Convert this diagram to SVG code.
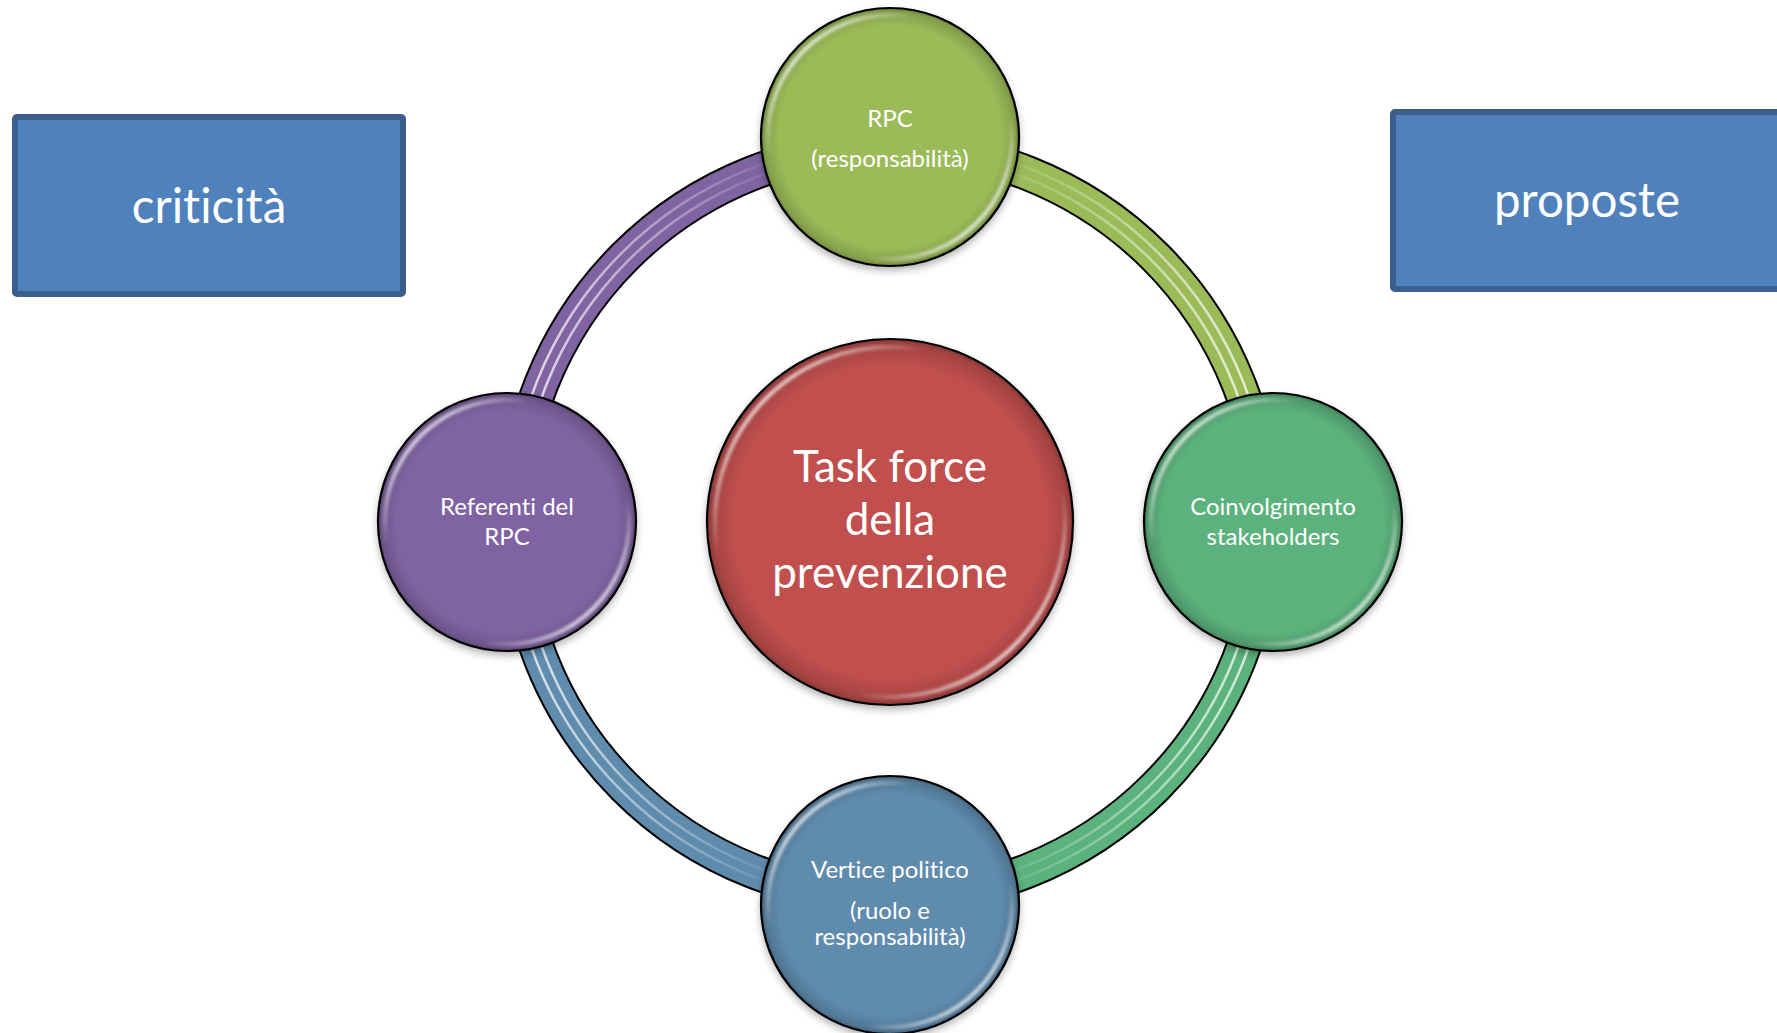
<svg xmlns="http://www.w3.org/2000/svg" width="1777" height="1033" viewBox="0 0 1777 1033">
<defs>
<style>
.lbl{font-family:Lato,"Open Sans","DejaVu Sans",sans-serif;fill:#fff;text-anchor:middle;font-variant-ligatures:none;font-feature-settings:"liga" 0}
.sm{font-size:24px}
.big{font-size:44px}
.bx{font-size:47.5px}
.box{fill:#4F81BD;stroke:#3A5F8D;stroke-width:6}
.edge{fill:none;stroke:#000;stroke-width:2.2}
.tube{fill:none;stroke:#000;stroke-width:36}
.band{fill:none;stroke-width:32}
.stripe{fill:none;stroke-width:2.5}
.hl{fill:none;stroke:url(#hl);stroke-width:4;filter:url(#soft)}
.vig{fill:url(#vig)}
</style>
<filter id="shadow" x="-20%" y="-20%" width="140%" height="150%">
<feGaussianBlur in="SourceAlpha" stdDeviation="4"/>
<feOffset dy="4"/>
<feComponentTransfer><feFuncA type="linear" slope="0.35"/></feComponentTransfer>
<feMerge><feMergeNode/><feMergeNode in="SourceGraphic"/></feMerge>
</filter>
<filter id="soft" x="-10%" y="-10%" width="120%" height="120%"><feGaussianBlur stdDeviation="1.5"/></filter>
<linearGradient id="hl" x1="0" y1="0" x2="1" y2="1">
<stop offset="0.08" stop-color="#fff" stop-opacity="1"/>
<stop offset="0.3" stop-color="#fff" stop-opacity="0"/>
<stop offset="0.7" stop-color="#fff" stop-opacity="0"/>
<stop offset="0.92" stop-color="#fff" stop-opacity="1"/>
</linearGradient>
<radialGradient id="vig" cx="0.5" cy="0.5" r="0.5">
<stop offset="0.86" stop-color="#000" stop-opacity="0"/>
<stop offset="0.97" stop-color="#000" stop-opacity="0.15"/>
<stop offset="1" stop-color="#000" stop-opacity="0.3"/>
</radialGradient>
<linearGradient id="sL" gradientUnits="userSpaceOnUse" x1="500" y1="0" x2="790" y2="0">
<stop offset="0" stop-color="#fff" stop-opacity="0.85"/>
<stop offset="1" stop-color="#fff" stop-opacity="0"/>
</linearGradient>
<linearGradient id="sR" gradientUnits="userSpaceOnUse" x1="1280" y1="0" x2="990" y2="0">
<stop offset="0" stop-color="#fff" stop-opacity="0.85"/>
<stop offset="1" stop-color="#fff" stop-opacity="0"/>
</linearGradient>
</defs>
<rect width="1777" height="1033" fill="#fff"/>

<g id="connectors">
<g id="arc-purple">
<path class="tube" d="M 515 522 A 375 375 0 0 1 890 147"/>
<path class="band" stroke="#8064A2" d="M 515 522 A 375 375 0 0 1 890 147"/>
<path class="stripe" stroke="url(#sL)" d="M 520 522 A 370 370 0 0 1 890 152"/>
<path class="stripe" stroke="url(#sL)" d="M 510 522 A 380 380 0 0 1 890 142"/>
</g>
<g id="arc-olive">
<path class="tube" d="M 890 147 A 375 375 0 0 1 1265 522"/>
<path class="band" stroke="#9BBB59" d="M 890 147 A 375 375 0 0 1 1265 522"/>
<path class="stripe" stroke="url(#sR)" d="M 890 152 A 370 370 0 0 1 1260 522"/>
<path class="stripe" stroke="url(#sR)" d="M 890 142 A 380 380 0 0 1 1270 522"/>
</g>
<g id="arc-green">
<path class="tube" d="M 1265 522 A 375 375 0 0 1 890 897"/>
<path class="band" stroke="#5BB27C" d="M 1265 522 A 375 375 0 0 1 890 897"/>
<path class="stripe" stroke="url(#sR)" d="M 1260 522 A 370 370 0 0 1 890 892"/>
<path class="stripe" stroke="url(#sR)" d="M 1270 522 A 380 380 0 0 1 890 902"/>
</g>
<g id="arc-blue">
<path class="tube" d="M 890 897 A 375 375 0 0 1 515 522"/>
<path class="band" stroke="#5F8BAD" d="M 890 897 A 375 375 0 0 1 515 522"/>
<path class="stripe" stroke="url(#sL)" d="M 890 892 A 370 370 0 0 1 520 522"/>
<path class="stripe" stroke="url(#sL)" d="M 890 902 A 380 380 0 0 1 510 522"/>
</g>
</g>

<g id="box-criticita">
<rect class="box" x="15" y="117" width="388" height="177" rx="2"/>
<text class="lbl bx" x="209" y="223">criticità</text>
</g>
<g id="box-proposte">
<rect class="box" x="1393" y="112" width="392" height="177" rx="2"/>
<text class="lbl bx" x="1587" y="217">proposte</text>
</g>

<g id="node-center">
<circle cx="890" cy="522" r="183" fill="#C0504D" filter="url(#shadow)"/>
<circle class="vig" cx="890" cy="522" r="183"/>
<circle class="hl" cx="890" cy="522" r="175"/>
<circle class="edge" cx="890" cy="522" r="183"/>
<text class="lbl big" x="890" y="482">Task force</text>
<text class="lbl big" x="890" y="535">della</text>
<text class="lbl big" x="890" y="588">prevenzione</text>
</g>

<g id="node-top">
<circle cx="890" cy="137" r="129" fill="#9BBB59" filter="url(#shadow)"/>
<circle class="vig" cx="890" cy="137" r="129"/>
<circle class="hl" cx="890" cy="137" r="122"/>
<circle class="edge" cx="890" cy="137" r="129"/>
<text class="lbl sm" x="890" y="127">RPC</text>
<text class="lbl sm" x="890" y="167">(responsabilità)</text>
</g>

<g id="node-left">
<circle cx="507" cy="522" r="129" fill="#8064A2" filter="url(#shadow)"/>
<circle class="vig" cx="507" cy="522" r="129"/>
<circle class="hl" cx="507" cy="522" r="122"/>
<circle class="edge" cx="507" cy="522" r="129"/>
<text class="lbl sm" x="507" y="515">Referenti del</text>
<text class="lbl sm" x="507" y="545">RPC</text>
</g>

<g id="node-right">
<circle cx="1273" cy="522" r="129" fill="#5BB27C" filter="url(#shadow)"/>
<circle class="vig" cx="1273" cy="522" r="129"/>
<circle class="hl" cx="1273" cy="522" r="122"/>
<circle class="edge" cx="1273" cy="522" r="129"/>
<text class="lbl sm" x="1273" y="515">Coinvolgimento</text>
<text class="lbl sm" x="1273" y="545">stakeholders</text>
</g>

<g id="node-bottom">
<circle cx="890" cy="905" r="129" fill="#5F8BAD" filter="url(#shadow)"/>
<circle class="vig" cx="890" cy="905" r="129"/>
<circle class="hl" cx="890" cy="905" r="122"/>
<circle class="edge" cx="890" cy="905" r="129"/>
<text class="lbl sm" x="890" y="878">Vertice politico</text>
<text class="lbl sm" x="890" y="919">(ruolo e</text>
<text class="lbl sm" x="890" y="945">responsabilità)</text>
</g>
</svg>
